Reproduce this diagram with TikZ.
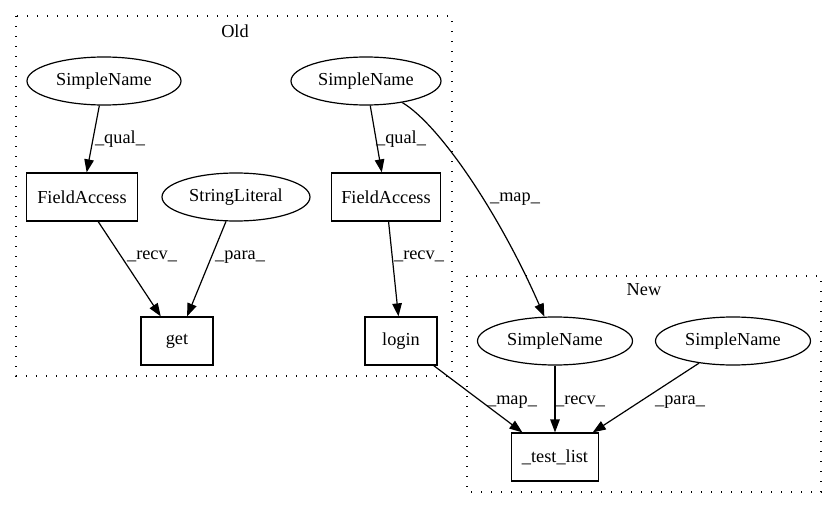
\documentclass[tikz,border=0pt]{standalone}
\usepackage{fontspec}
\setmainfont{Liberation Serif}
\usetikzlibrary{shapes.geometric,arrows.meta}
\begin{document}
\begin{tikzpicture}[x=1pt,y=-1pt,
  every node/.style={font=\fontsize{18.3}{22}\selectfont},
  ell/.style={draw, ellipse, line width=1.2pt, inner sep=0pt, minimum height=48pt},
  box/.style={draw, rectangle, line width=1.2pt, inner sep=0pt, minimum height=48pt},
  edge/.style={line width=1.2pt, -{Triangle[length=13pt,width=9.5pt]}},
  lbl/.style={inner sep=0pt, anchor=base},
  clus/.style={line width=1.3pt, dash pattern=on 1.3pt off 8.7pt}]
\useasboundingbox (0,0) rectangle (837,508);

% clusters
\draw[clus] (16,16) rectangle (452,376);
\node (oldlbl) at (235,31) {Old};
\draw[clus] (467,276) rectangle (821,492);
\node (newlbl) at (644,290) {New};

% nodes
\node[ell, minimum width=154pt] (sn1) at (104,81) {SimpleName};
\node[ell, minimum width=150pt] (sn2) at (366,81) {SimpleName};
\node[box, minimum width=111pt] (fa1) at (82,197) {FieldAccess};
\node[ell, minimum width=148pt] (sl) at (236,197) {StringLiteral};
\node[box, minimum width=109pt] (fa2) at (386,197) {FieldAccess};
\node[box, minimum width=72pt] (get) at (177,341) {get};
\node[box, minimum width=72pt] (login) at (401,341) {login};
\node[ell, minimum width=155pt] (sn3) at (555,341) {SimpleName};
\node[ell, minimum width=155pt] (sn4) at (733,341) {SimpleName};
\node[box, minimum width=87pt] (tl) at (555,457) {\_test\_list};

% edges
\draw[edge] (sn1) -- (fa1);
\draw[edge] (sn2) -- (fa2);
\draw[edge] (sn2) .. controls (440,125) and (500,215) .. (sn3);
\draw[edge] (fa1) -- (get);
\draw[edge] (sl) -- (get);
\draw[edge] (fa2) -- (login);
\draw[edge] (login) -- (tl);
\draw[edge] (sn3) -- (tl);
\draw[edge] (sn4) -- (tl);

% edge labels
\node[lbl] (l1) at (120,143) {\_qual\_};
\node[lbl] (l2) at (401,143) {\_qual\_};
\node[lbl] (l3) at (515,201) {\_map\_};
\node[lbl] (l4) at (152,259) {\_recv\_};
\node[lbl] (l5) at (240,259) {\_para\_};
\node[lbl] (l6) at (419,259) {\_recv\_};
\node[lbl] (l7) at (512,404) {\_map\_};
\node[lbl] (l8) at (580,404) {\_recv\_};
\node[lbl] (l9) at (680,404) {\_para\_};
\end{tikzpicture}
\end{document}
